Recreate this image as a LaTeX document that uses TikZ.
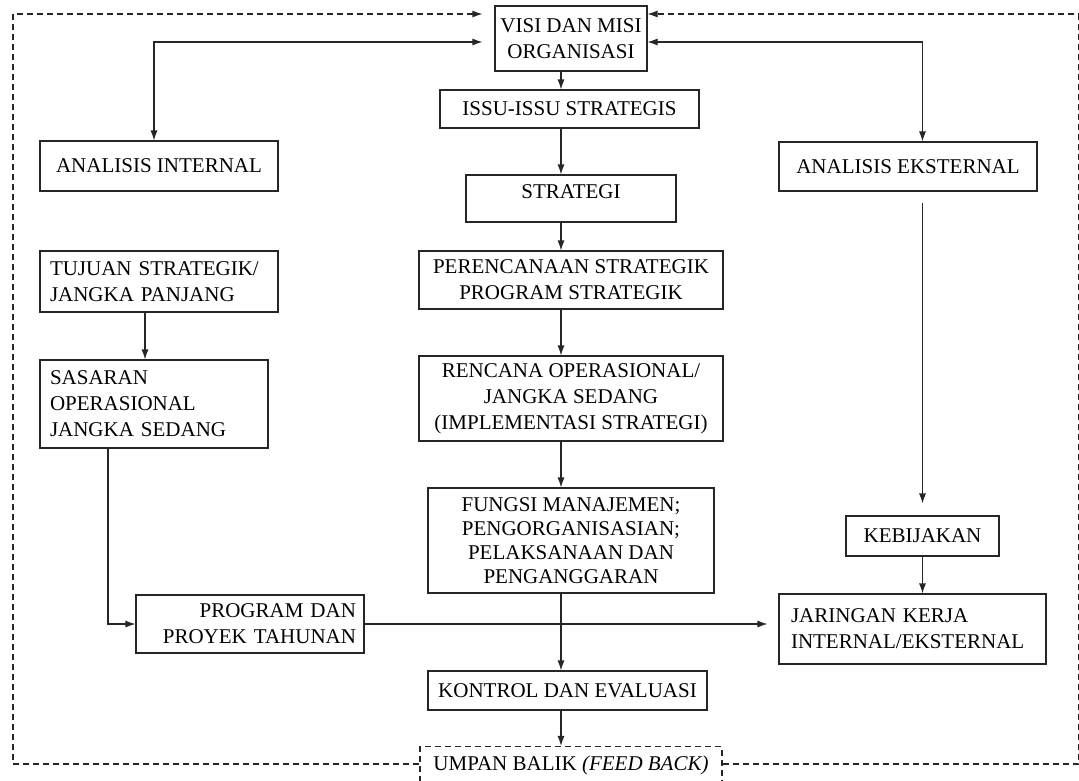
\documentclass[tikz,border=0pt]{standalone}
\usepackage{fontspec}
\setmainfont{Liberation Serif}
\usepackage{tikz}
\usepackage{xcolor}
\usetikzlibrary{arrows.meta}
\tikzset{
    plain-box/.style = {draw=black!85, fill=white, line width=1.1pt, rectangle, inner sep=3pt, align=center, font=\fontsize{21}{26}\selectfont},
    left-box/.style = {plain-box, align=left, inner xsep=10pt},
    feedback-box/.style = {plain-box, dash pattern=on 6pt off 4pt},
    link/.style = {draw=black!85, line width=1.1pt, >={Latex[length=10pt,width=7pt]}},
    feedback-line/.style = {link, dash pattern=on 6pt off 4pt},
}

\begin{document}
\begin{tikzpicture}[x=1pt, y=-1pt]
\useasboundingbox (0,0) rectangle (1079,780);
\clip (0,0) rectangle (1079,780);

% middle column
\node[plain-box, minimum width=152pt, minimum height=65pt] (visi) at (571,38.5) {VISI DAN MISI\\ORGANISASI};
\node[plain-box, minimum width=259pt, minimum height=38pt] (issu) at (569.5,109) {ISSU-ISSU STRATEGIS};
\node[plain-box, minimum width=210pt, minimum height=47pt, text height=20pt, text depth=21pt] (strategi) at (571,198.5) {STRATEGI};
\node[plain-box, minimum width=304pt, minimum height=58pt] (perencanaan) at (571,280) {PERENCANAAN STRATEGIK\\PROGRAM STRATEGIK};
\node[plain-box, minimum width=304pt, minimum height=85pt] (rencana) at (571,398.5) {RENCANA OPERASIONAL/\\JANGKA SEDANG\\(IMPLEMENTASI STRATEGI)};
\node[plain-box, minimum width=286pt, minimum height=105pt, font=\fontsize{21}{24}\selectfont] (fungsi) at (571,540.5) {FUNGSI MANAJEMEN;\\PENGORGANISASIAN;\\PELAKSANAAN DAN\\PENGANGGARAN};
\node[plain-box, minimum width=279pt, minimum height=39pt] (kontrol) at (567.5,690.5) {KONTROL DAN EVALUASI};
\node[feedback-box, minimum width=302pt, minimum height=67pt, text height=21pt, text depth=40pt] (umpan) at (571,780) {UMPAN BALIK \textit{(FEED BACK)}};

% left column
\node[plain-box, minimum width=238pt, minimum height=50pt] (aint) at (159,166) {ANALISIS INTERNAL};
\node[left-box, text width=218pt, minimum height=61pt] (tujuan) at (159,281.5) {TUJUAN STRATEGIK/\\JANGKA PANJANG};
\node[left-box, text width=208pt, minimum height=88pt] (sasaran) at (154,404) {SASARAN\\OPERASIONAL\\JANGKA SEDANG};
\node[plain-box, align=right, inner xsep=8pt, text width=212pt, minimum height=58pt] (program) at (250,624) {PROGRAM DAN\\PROYEK TAHUNAN};

% right column
\node[plain-box, minimum width=258pt, minimum height=49pt] (aext) at (908,166.5) {ANALISIS EKSTERNAL};
\node[plain-box, minimum width=153pt, minimum height=40pt] (kebijakan) at (922.5,536) {KEBIJAKAN};
\node[left-box, inner xsep=12pt, text width=243pt, minimum height=70pt] (jaringan) at (912.5,629) {JARINGAN KERJA\\INTERNAL/EKSTERNAL};

\coordinate (spine) at (561,0);
\coordinate (toprow) at (0,42);
\coordinate (fbrow) at (0,764);
\coordinate (loop-l) at (13,14);
\coordinate (loop-r) at (1078.5,14);

% main flow
\draw[link, ->] (visi.south -| spine) -- (issu.north -| spine);
\draw[link, ->] (issu.south -| spine) -- (strategi.north -| spine);
\draw[link, ->] (strategi.south -| spine) -- (perencanaan.north -| spine);
\draw[link, ->] (perencanaan.south -| spine) -- (rencana.north -| spine);
\draw[link, ->] (rencana.south -| spine) -- (fungsi.north -| spine);
\draw[link, ->] (fungsi.south -| spine) -- (kontrol.north -| spine);
\draw[link, ->] (kontrol.south -| spine) -- (umpan.north -| spine);

% analyses
\draw[link, <->, shorten <=12pt] (visi.west |- toprow) -| ([xshift=-5pt]aint.north);
\draw[link, <->] (visi.east |- toprow) -| (kebijakan.north |- aext.north);
\draw[link, ->, shorten <=11pt, shorten >=12pt] (kebijakan.north |- aext.south) -- (kebijakan.north);
\draw[link, ->] (kebijakan.south) -- (kebijakan.south |- jaringan.north);

% left side
\draw[link, ->] ([xshift=-14pt]tujuan.south) -- ([xshift=-14pt]tujuan.south |- sasaran.north);
\draw[link, ->] ([xshift=-46pt]sasaran.south) |- (program.west);
\draw[link, ->, shorten >=11pt] (program.east) -- (jaringan.west |- program.east);

% feedback loop
\draw[feedback-line, ->, shorten >=12pt] (umpan.west |- fbrow) -| (loop-l) -- (visi.west |- loop-l);
\draw[feedback-line, ->] (umpan.east |- fbrow) -| (loop-r) -- (visi.east |- loop-r);
\end{tikzpicture}
\end{document}
